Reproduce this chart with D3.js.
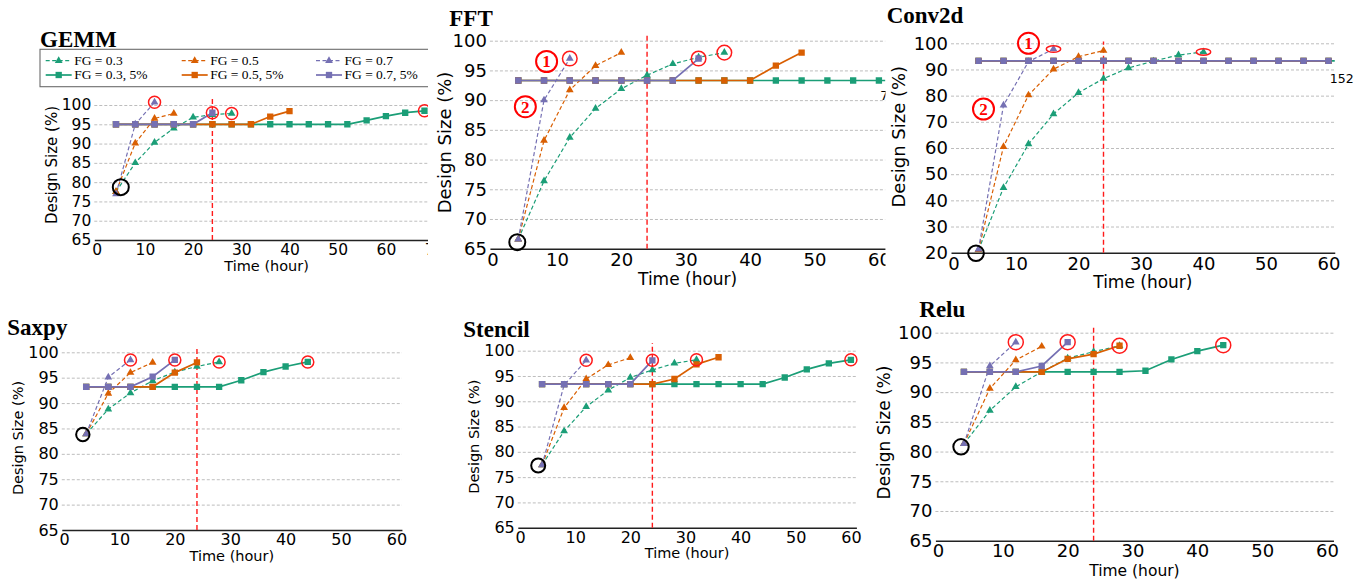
<!DOCTYPE html>
<html>
<head>
<meta charset="utf-8">
<script src="https://cdn.jsdelivr.net/npm/d3@7"></script>
<style>
  body { margin: 0; background: #fff; }
  svg { display: block; }
</style>
</head>
<body>
<svg id="fig" width="1368" height="580"></svg>
<script>
// Sampling instants (hours) shared by every run
const timeHours = [4, 8, 12, 16, 20, 24, 28, 32, 36, 40, 44, 48, 52, 56, 60, 64, 68];

// Series order: FG=0.3, FG=0.3 5%, FG=0.5, FG=0.5 5%, FG=0.7, FG=0.7 5%
const seriesNames = ["FG = 0.3", "FG = 0.3, 5%", "FG = 0.5", "FG = 0.5, 5%", "FG = 0.7", "FG = 0.7, 5%"];

// ---- GEMM ----
const gemm_fg03   = [77.5, 85.0, 90.3, 94.0, 96.8, 97.5, 97.8];
const gemm_fg03_5 = [95, 95, 95, 95, 95, 95, 95, 95, 95, 95, 95, 95, 95, 96.0, 97.1, 98.0, 98.5];
const gemm_fg05   = [77.5, 90.1, 96.5, 97.8];
const gemm_fg05_5 = [95, 95, 95, 95, 95, 95, 95, 95, 97.0, 98.4];
const gemm_fg07   = [76.9, 95.0, 100.7];
const gemm_fg07_5 = [95, 95, 95, 95, 95, 98.0];
const gemm_best   = [[12, 100.7], [24, 98.0], [28, 97.8], [68, 98.5]];
const gemm_start  = [5.0, 78.7];

// ---- FFT ----
const fft_fg03   = [66.6, 76.4, 83.7, 88.6, 91.9, 94.2, 96.1, 97.2, 98.0];
const fft_fg03_5 = [93.3, 93.3, 93.3, 93.3, 93.3, 93.3, 93.3, 93.3, 93.3, 93.3, 93.3, 93.3, 93.3, 93.3, 93.3, 93.3];
const fft_fg05   = [66.6, 83.2, 91.7, 95.8, 98.0];
const fft_fg05_5 = [93.3, 93.3, 93.3, 93.3, 93.3, 93.3, 93.3, 93.3, 93.3, 93.3, 95.8, 98.0];
const fft_fg07   = [66.6, 90.0, 97.0];
const fft_fg07_5 = [93.3, 93.3, 93.3, 93.3, 93.3, 93.3, 93.3, 97.0];
const fft_best   = [[12, 97.0], [32, 97.0], [36, 98.0]];
const fft_start  = [3.85, 66.1];
const fft_marks  = [["1", 8.4, 96.5], ["2", 5.1, 88.9]];
const fft_notes  = [["7", 60.2, 90.0]];

// ---- Conv2d ----
const conv_fg03   = [21.0, 44.8, 61.5, 73.0, 81.1, 86.5, 90.6, 93.2, 95.5, 96.7];
const conv_fg03_5 = [93.3, 93.3, 93.3, 93.3, 93.3, 93.3, 93.3, 93.3, 93.3, 93.3, 93.3, 93.3, 93.3, 93.3, 93.3, 93.3];
const conv_fg05   = [21.0, 60.5, 80.2, 90.1, 94.9, 97.2];
const conv_fg05_5 = [93.3, 93.3, 93.3, 93.3, 93.3, 93.3, 93.3, 93.3, 93.3, 93.3, 93.3, 93.3, 93.3, 93.3, 93.3];
const conv_fg07   = [21.3, 76.3, 93.0, 97.8];
const conv_fg07_5 = [93.3, 93.3, 93.3, 93.3, 93.3, 93.3, 93.3, 93.3, 93.3, 93.3, 93.3, 93.3, 93.3, 93.3, 93.3];
const conv_best   = [[16, 97.8], [40, 96.7]];
const conv_start  = [3.6, 19.8];
const conv_marks  = [["1", 12.0, 100.0], ["2", 4.8, 74.9]];
const conv_notes  = [["152", 60.2, 84.7]];

// ---- Saxpy ----
const saxpy_fg03   = [83.9, 88.8, 92.0, 94.4, 96.1, 97.2, 98.1];
const saxpy_fg03_5 = [93.2, 93.2, 93.2, 93.2, 93.2, 93.2, 93.2, 94.5, 96.1, 97.2, 98.1];
const saxpy_fg05   = [83.9, 91.9, 96.0, 98.0];
const saxpy_fg05_5 = [93.2, 93.2, 93.2, 93.2, 96.0, 98.0];
const saxpy_fg07   = [83.9, 95.1, 98.5];
const saxpy_fg07_5 = [93.2, 93.2, 93.2, 95.2, 98.5];
const saxpy_best   = [[12, 98.5], [20, 98.5], [28, 98.1], [44, 98.1]];
const saxpy_start  = [3.4, 83.8];

// ---- Stencil ----
const stencil_fg03   = [77.4, 84.1, 88.9, 92.2, 94.7, 96.2, 97.5, 98.2];
const stencil_fg03_5 = [93.4, 93.4, 93.4, 93.4, 93.4, 93.4, 93.4, 93.4, 93.4, 93.4, 93.4, 94.7, 96.3, 97.5, 98.2];
const stencil_fg05   = [77.4, 88.7, 94.4, 97.2, 98.6];
const stencil_fg05_5 = [93.4, 93.4, 93.4, 93.4, 93.4, 93.4, 94.4, 97.3, 98.7];
const stencil_fg07   = [77.4, 93.2, 98.1];
const stencil_fg07_5 = [93.4, 93.4, 93.4, 93.4, 93.4, 98.1];
const stencil_best   = [[12, 98.1], [24, 98.1], [32, 98.2], [60, 98.2]];
const stencil_start  = [3.3, 77.3];

// ---- Relu ----
const relu_fg03   = [81.3, 86.9, 90.9, 93.4, 95.7, 96.8, 97.8];
const relu_fg03_5 = [93.4, 93.4, 93.4, 93.4, 93.4, 93.4, 93.4, 93.6, 95.5, 96.9, 97.9];
const relu_fg05   = [81.3, 90.6, 95.4, 97.7];
const relu_fg05_5 = [93.4, 93.4, 93.4, 93.4, 95.6, 96.4, 97.8];
const relu_fg07   = [81.3, 94.4, 98.4];
const relu_fg07_5 = [93.4, 93.4, 93.4, 94.4, 98.4];
const relu_best   = [[12, 98.4], [20, 98.4], [28, 97.8], [44, 97.9]];
const relu_start  = [3.55, 80.8];

// Tick labels
const xTicks60 = [0, 10, 20, 30, 40, 50, 60];
const xTicks70 = [0, 10, 20, 30, 40, 50, 60, 70];
const yTicks65 = [65, 70, 75, 80, 85, 90, 95, 100];
const yTicks20 = [20, 30, 40, 50, 60, 70, 80, 90, 100];
const deadlineHour = 24;

// Styling
const seriesColors = ["#1b9e77", "#1b9e77", "#d95f02", "#d95f02", "#7570b3", "#7570b3"];
const seriesDashed = [true, false, true, false, true, false];
const SANS = "DejaVu Sans";
const SERIF = "Liberation Serif";

const panels = [
  { title: "GEMM", series: [gemm_fg03, gemm_fg03_5, gemm_fg05, gemm_fg05_5, gemm_fg07, gemm_fg07_5],
    best: gemm_best, start: gemm_start, marks: [], notes: [], xTicks: xTicks70, yTicks: yTicks65, legend: true,
    L: { x0: 96.7, pph: 4.82, xMin: -0.5, xMax: 71, yLo: 65, yHi: 100, yBot: 240, yTop: 105, clipRight: 428,
         titleX: 40, titleY: 46.7, tickFs: 15.5, tickPad: 3.7, labFs: 14.5, yLabFs: 15, xLabY: 271, yLabX: 57.3, yLabCy: 165,
         redTop: 101.7, hlRx: 6, hlRy: 6, startR: 8 } },
  { title: "FFT", series: [fft_fg03, fft_fg03_5, fft_fg05, fft_fg05_5, fft_fg07, fft_fg07_5],
    best: fft_best, start: fft_start, marks: fft_marks, notes: fft_notes, xTicks: xTicks60, yTicks: yTicks65,
    L: { x0: 492.5, pph: 6.44, xMin: -0.4, xMax: 61, yLo: 65, yHi: 100, yBot: 248.7, yTop: 40.7, clipRight: 885.5,
         titleX: 449.3, titleY: 26, tickFs: 18, tickPad: 4.3, labFs: 17, yLabFs: 18, xLabY: 285, yLabX: 451, yLabCy: 142.5,
         redTop: 101, hlRx: 7.3, hlRy: 7.3, startR: 8 } },
  { title: "Conv2d", series: [conv_fg03, conv_fg03_5, conv_fg05, conv_fg05_5, conv_fg07, conv_fg07_5],
    best: conv_best, start: conv_start, marks: conv_marks, notes: conv_notes, xTicks: xTicks60, yTicks: yTicks20,
    L: { x0: 953.5, pph: 6.25, xMin: -0.4, xMax: 61, yLo: 20, yHi: 100, yBot: 252.7, yTop: 43.3, clipRight: null,
         titleX: 886.7, titleY: 22.7, tickFs: 18, tickPad: 4.3, labFs: 17, yLabFs: 18, xLabY: 287.7, yLabX: 904.5, yLabCy: 136.7,
         redTop: 100.7, hlRx: 7.2, hlRy: 3.2, startR: 7.8 } },
  { title: "Saxpy", series: [saxpy_fg03, saxpy_fg03_5, saxpy_fg05, saxpy_fg05_5, saxpy_fg07, saxpy_fg07_5],
    best: saxpy_best, start: saxpy_start, marks: [], notes: [], xTicks: xTicks60, yTicks: yTicks65,
    L: { x0: 64, pph: 5.54, xMin: -0.4, xMax: 61, yLo: 65, yHi: 100, yBot: 530, yTop: 352.3, clipRight: null,
         titleX: 7.3, titleY: 335, tickFs: 16, tickPad: 3.8, labFs: 14.5, yLabFs: 14.5, xLabY: 561, yLabX: 23.3, yLabCy: 438,
         redTop: 101, hlRx: 6, hlRy: 6, startR: 6.7 } },
  { title: "Stencil", series: [stencil_fg03, stencil_fg03_5, stencil_fg05, stencil_fg05_5, stencil_fg07, stencil_fg07_5],
    best: stencil_best, start: stencil_start, marks: [], notes: [], xTicks: xTicks60, yTicks: yTicks65,
    L: { x0: 520, pph: 5.515, xMin: -0.4, xMax: 61, yLo: 65, yHi: 100, yBot: 527.7, yTop: 350.7, clipRight: null,
         titleX: 463.3, titleY: 336.7, tickFs: 16, tickPad: 3.8, labFs: 14.5, yLabFs: 14.5, xLabY: 558, yLabX: 478.7, yLabCy: 436.7,
         redTop: 101.5, hlRx: 6, hlRy: 6, startR: 7 } },
  { title: "Relu", series: [relu_fg03, relu_fg03_5, relu_fg05, relu_fg05_5, relu_fg07, relu_fg07_5],
    best: relu_best, start: relu_start, marks: [], notes: [], xTicks: xTicks60, yTicks: yTicks65,
    L: { x0: 938, pph: 6.483, xMin: -0.4, xMax: 61, yLo: 65, yHi: 100, yBot: 540.7, yTop: 332.7, clipRight: null,
         titleX: 919.3, titleY: 316.7, tickFs: 18, tickPad: 3.4, labFs: 15.5, yLabFs: 17, xLabY: 576.2, yLabX: 890, yLabCy: 432.5,
         redTop: 100.9, hlRx: 7.5, hlRy: 7.5, startR: 7.7 } }
];

const svg = d3.select("#fig");
const defs = svg.append("defs");

const triangle = d3.symbol().type(d3.symbolTriangle).size(26);
const square = d3.symbol().type(d3.symbolSquare).size(40);

function drawPanel(p, idx) {
  const L = p.L;
  const root = svg.append("g");
  if (L.clipRight) {
    defs.append("clipPath").attr("id", "panel-clip-" + idx)
      .append("rect").attr("x", 0).attr("y", 0).attr("width", L.clipRight).attr("height", 580);
    root.attr("clip-path", `url(#panel-clip-${idx})`);
  }

  const x = d3.scaleLinear().domain([L.xMin, L.xMax])
    .range([L.x0 + L.xMin * L.pph, L.x0 + L.xMax * L.pph]);
  const y = d3.scaleLinear().domain([L.yLo, L.yHi]).range([L.yBot, L.yTop]);
  const [xa, xb] = x.range();

  // horizontal dashed grid
  const grid = root.append("g").attr("transform", `translate(${xa},0)`)
    .call(d3.axisLeft(y).tickValues(p.yTicks.filter(v => v !== L.yLo)).tickSize(-(xb - xa)).tickFormat(""));
  grid.select(".domain").remove();
  grid.selectAll("line").attr("stroke", "#b5b5b5").attr("stroke-width", 0.9).attr("stroke-dasharray", "3,2");

  // y tick labels
  const yAx = root.append("g").attr("transform", `translate(${xa},0)`)
    .call(d3.axisLeft(y).tickValues(p.yTicks).tickSize(0).tickPadding(3).tickFormat(d3.format("d")));
  yAx.select(".domain").remove();
  yAx.attr("font-family", SANS).attr("font-size", L.tickFs);
  yAx.selectAll("text").attr("fill", "#000");

  // x axis (spine + tick labels)
  const xAx = root.append("g").attr("transform", `translate(0,${L.yBot})`)
    .call(d3.axisBottom(x).tickValues(p.xTicks).tickSizeInner(0).tickSizeOuter(0)
      .tickPadding(L.tickPad).tickFormat(d3.format("d")));
  xAx.attr("font-family", SANS).attr("font-size", L.tickFs);
  xAx.select(".domain").attr("stroke", "#222").attr("stroke-width", 1.4);
  xAx.selectAll("text").attr("fill", "#000");

  // axis titles
  root.append("text").attr("x", (xa + xb) / 2).attr("y", L.xLabY)
    .attr("text-anchor", "middle").attr("font-family", SANS).attr("font-size", L.labFs)
    .attr("fill", "#000").text("Time (hour)");
  root.append("text").attr("transform", `translate(${L.yLabX},${L.yLabCy}) rotate(-90)`)
    .attr("text-anchor", "middle").attr("font-family", SANS).attr("font-size", L.yLabFs)
    .attr("fill", "#000").text("Design Size (%)");

  // 24-hour deadline
  root.append("line")
    .attr("x1", x(deadlineHour)).attr("x2", x(deadlineHour))
    .attr("y1", y(L.yLo)).attr("y2", y(L.redTop))
    .attr("stroke", "#ff1a1a").attr("stroke-width", 1.4).attr("stroke-dasharray", "5,3");

  // data series, clipped to the axes
  defs.append("clipPath").attr("id", "data-clip-" + idx)
    .append("rect").attr("x", xa - 10).attr("y", L.yTop - 40)
    .attr("width", xb - xa + 10).attr("height", L.yBot - L.yTop + 50);
  const dataG = root.append("g").attr("clip-path", `url(#data-clip-${idx})`);

  const line = d3.line().x(d => x(d[0])).y(d => y(d[1]));
  p.series.forEach((vals, s) => {
    const pts = vals.map((v, k) => [timeHours[k], v]);
    const dashed = seriesDashed[s];
    dataG.append("path").datum(pts).attr("d", line)
      .attr("fill", "none").attr("stroke", seriesColors[s])
      .attr("stroke-width", dashed ? 1.2 : 1.7)
      .attr("stroke-dasharray", dashed ? "4,2.5" : null);
    dataG.append("g").selectAll("path").data(pts).join("path")
      .attr("transform", d => `translate(${x(d[0])},${y(d[1])})`)
      .attr("d", dashed ? triangle : square)
      .attr("fill", seriesColors[s]);
  });

  // best-result highlights
  root.append("g").selectAll("ellipse").data(p.best).join("ellipse")
    .attr("cx", d => x(d[0])).attr("cy", d => y(d[1]))
    .attr("rx", L.hlRx).attr("ry", L.hlRy)
    .attr("fill", "none").attr("stroke", "#ff1a1a").attr("stroke-width", 1.5);

  // common starting point
  root.append("circle")
    .attr("cx", x(p.start[0])).attr("cy", y(p.start[1])).attr("r", L.startR)
    .attr("fill", "none").attr("stroke", "#000").attr("stroke-width", 2);

  // numbered callouts
  p.marks.forEach(([label, mx, my]) => {
    root.append("circle").attr("cx", x(mx)).attr("cy", y(my)).attr("r", 10.5)
      .attr("fill", "none").attr("stroke", "#ff0000").attr("stroke-width", 2);
    root.append("text").attr("x", x(mx)).attr("y", y(my)).attr("dy", "0.35em")
      .attr("text-anchor", "middle").attr("font-family", SERIF).attr("font-weight", "bold")
      .attr("font-size", 17).attr("fill", "#ff0000").text(label);
  });

  // side notes
  p.notes.forEach(([label, nx, ny]) => {
    root.append("text").attr("x", x(nx)).attr("y", y(ny))
      .attr("font-family", SANS).attr("font-size", 12.5).attr("fill", "#000").text(label);
  });

  // panel title
  root.append("text").attr("x", L.titleX).attr("y", L.titleY)
    .attr("font-family", SERIF).attr("font-weight", "bold").attr("font-size", 23)
    .attr("fill", "#000").text(p.title);

  if (p.legend) drawLegend(root);
}

function drawLegend(g) {
  const box = { x: 40, y: 49.3, w: 430, h: 37.4 };
  g.append("rect").attr("x", box.x).attr("y", box.y).attr("width", box.w).attr("height", box.h)
    .attr("fill", "#fff").attr("stroke", "#6b6b6b").attr("stroke-width", 1.1);
  const colX = [45.7, 181.7, 316];
  const rowY = [60.7, 75];
  seriesNames.forEach((name, s) => {
    const cx = colX[Math.floor(s / 2)], cy = rowY[s % 2];
    const dashed = seriesDashed[s];
    g.append("line").attr("x1", cx).attr("x2", cx + 26).attr("y1", cy).attr("y2", cy)
      .attr("stroke", seriesColors[s]).attr("stroke-width", dashed ? 1.2 : 1.7)
      .attr("stroke-dasharray", dashed ? "4,2.5" : null);
    g.append("path").attr("transform", `translate(${cx + 13},${cy})`)
      .attr("d", dashed ? triangle : square).attr("fill", seriesColors[s]);
    g.append("text").attr("x", cx + 28.5).attr("y", cy + 4.2)
      .attr("font-family", SERIF).attr("font-size", 13.5).attr("fill", "#000").text(name);
  });
}

panels.forEach((p, i) => drawPanel(p, i));
</script>
</body>
</html>
